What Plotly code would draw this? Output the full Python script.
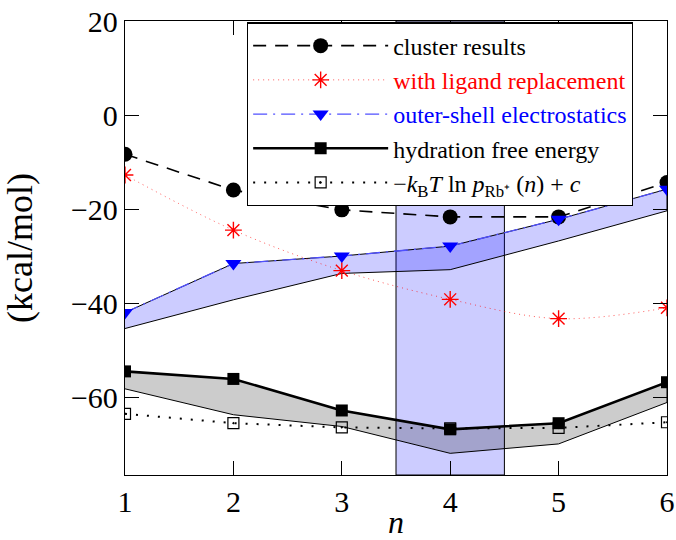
import plotly.graph_objects as go

# Coordination number n
n = [1, 2, 3, 4, 5, 6]

# Free energies in kcal/mol
cluster_results = [-8.3, -15.9, -20.1, -21.6, -21.6, -14.3]
ligand_replacement = [-12.7, -24.4, -33.0, -39.1, -43.2, -40.9]
outer_shell = [-41.9, -31.5, -29.9, -27.8, -22.1, -15.7]
outer_shell_low = [-45.3, -39.2, -33.6, -32.8, -26.7, -20.3]
hydration = [-54.4, -56.0, -62.7, -66.7, -65.4, -56.7]
hydration_low = [-58.1, -63.6, -66.1, -71.8, -69.8, -61.0]
neg_log_prob = [-63.4, -65.4, -66.3, -66.5, -66.4, -65.2]

# Most probable coordination window
highlight_n = [3.5, 4.5]

x_ticks = [1, 2, 3, 4, 5, 6]
y_ticks = [-60, -40, -20, 0, 20]
y_range = [-76.4, 20]

FONT = "Liberation Serif, Times New Roman, Times, serif"

fig = go.Figure()

# Shaded uncertainty bands (closed polygons)
fig.add_trace(go.Scatter(
    x=n + n[::-1], y=outer_shell + outer_shell_low[::-1],
    fill="toself", fillcolor="rgba(0,0,255,0.2)",
    line=dict(color="black", width=1), mode="lines",
    showlegend=False, hoverinfo="skip"))
fig.add_trace(go.Scatter(
    x=n + n[::-1], y=hydration + hydration_low[::-1],
    fill="toself", fillcolor="rgba(0,0,0,0.2)",
    line=dict(color="black", width=1), mode="lines",
    showlegend=False, hoverinfo="skip"))

fig.add_trace(go.Scatter(
    x=n, y=cluster_results, name="cluster results", legendgroup="a",
    mode="lines+markers",
    line=dict(color="black", width=1.6, dash="13px,9px"),
    marker=dict(symbol="circle", size=15, color="black")))

fig.add_trace(go.Scatter(
    x=n, y=ligand_replacement, legendgroup="b",
    name='<span style="color:#ff0000">with ligand replacement</span>',
    mode="lines+markers",
    line=dict(color="rgba(255,0,0,0.65)", width=1, dash="1px,4px", shape="spline"),
    marker=dict(symbol="asterisk-open", size=14, color="red",
                line=dict(color="red", width=1.4))))

fig.add_trace(go.Scatter(
    x=n, y=outer_shell, legendgroup="c",
    name='<span style="color:#0000ff">outer-shell electrostatics</span>',
    mode="lines+markers",
    line=dict(color="rgba(80,80,255,1)", width=1.3, dash="14px,6px,2px,6px"),
    marker=dict(symbol="triangle-down", size=14, color="blue")))

fig.add_trace(go.Scatter(
    x=n, y=hydration, name="hydration free energy", legendgroup="d",
    mode="lines+markers",
    line=dict(color="black", width=2.6),
    marker=dict(symbol="square", size=12, color="black")))

fig.add_trace(go.Scatter(
    x=n, y=neg_log_prob, legendgroup="e",
    name="\u2212<i>k</i><sub>B</sub><i>T</i> ln <i>p</i><sub>Rb\u207a</sub> (<i>n</i>) + <i>c</i>",
    mode="lines+markers",
    line=dict(color="black", width=2, dash="2px,9px"),
    marker=dict(symbol="square-open-dot", size=11, color="black",
                line=dict(color="black", width=1.2))))

fig.add_shape(type="rect", xref="x", yref="paper",
              x0=highlight_n[0], x1=highlight_n[1], y0=0, y1=1,
              fillcolor="rgba(0,0,255,0.2)", line=dict(color="black", width=1),
              layer="below")

axis_common = dict(
    showline=True, linecolor="black", linewidth=1.3, mirror="allticks",
    ticks="inside", ticklen=14, tickwidth=1.2, tickcolor="black",
    showgrid=False, zeroline=False, automargin=False,
    tickfont=dict(family=FONT, size=30, color="black"))

fig.update_xaxes(range=[1, 6], tickvals=x_ticks,
                 title=dict(text="<i>n</i>", font=dict(family=FONT, size=32, color="black"),
                            standoff=2),
                 **axis_common)
fig.update_yaxes(range=y_range, tickvals=y_ticks,
                 title=dict(text="(kcal/mol)", font=dict(family=FONT, size=36, color="black"),
                            standoff=28),
                 **axis_common)

fig.update_layout(
    width=676, height=540,
    margin=dict(l=125, r=9, t=21, b=65),
    plot_bgcolor="white", paper_bgcolor="white",
    font=dict(family=FONT, color="black"),
    legend=dict(x=0.225, y=0.997, xanchor="left", yanchor="top",
                bgcolor="white", bordercolor="black", borderwidth=1.2,
                font=dict(family=FONT, size=24, color="black"),
                itemwidth=135, traceorder="grouped", tracegroupgap=0),
)

fig.write_html("out.html")
